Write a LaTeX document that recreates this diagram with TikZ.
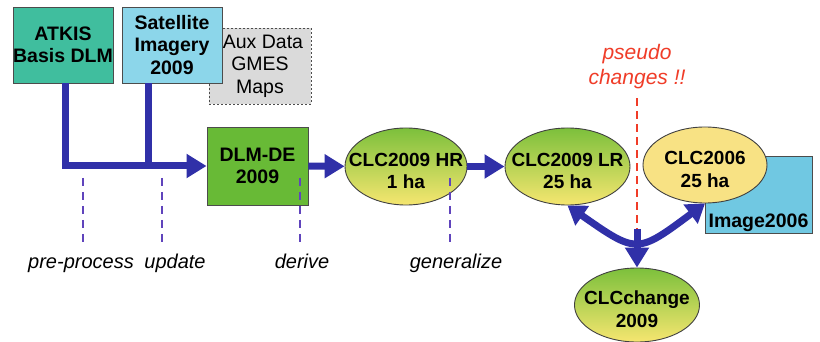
\documentclass[tikz,border=0pt]{standalone}
\usepackage{fontspec}
\setmainfont{Liberation Sans}
\usetikzlibrary{arrows.meta,shapes.geometric}
\definecolor{atkisc}{RGB}{64,190,158}
\definecolor{satc}{RGB}{140,214,234}
\definecolor{auxc}{RGB}{218,218,218}
\definecolor{dlmc}{RGB}{104,186,54}
\definecolor{clcg}{RGB}{124,192,60}
\definecolor{clcy}{RGB}{246,230,112}
\definecolor{c06c}{RGB}{248,226,132}
\definecolor{imgc}{RGB}{112,200,226}
\definecolor{flowc}{RGB}{48,48,168}
\definecolor{redc}{RGB}{240,60,40}
\definecolor{purpc}{RGB}{96,68,188}
\newcommand{\dropln}{\rule{0pt}{22pt}}
\begin{document}
\begin{tikzpicture}[x=1pt,y=-1pt,
  every node/.style={font=\fontsize{19.5}{22.5}\selectfont\bfseries, align=center, inner sep=0pt, text=black},
  box/.style={draw=black!70, line width=0.9pt, rectangle},
  ell/.style={draw=black!75, line width=0.9pt, ellipse, inner xsep=-30pt, inner ysep=-25pt,
              font=\fontsize{19}{22.5}\selectfont\bfseries},
  gy/.style={ell, top color=clcg, bottom color=clcy},
  flow/.style={draw=flowc, line width=7pt, -{Triangle[length=20pt,width=23pt]}},
  flowline/.style={draw=flowc, line width=7pt},
  twoway/.style={draw=flowc, line width=7pt, {Triangle[length=18pt,width=23pt]}-{Triangle[length=18pt,width=23pt]}},
  vdash/.style={draw=purpc, line width=2.5pt, dash pattern=on 8pt off 6pt},
  rdash/.style={draw=redc, line width=2.2pt, dash pattern=on 8pt off 5pt},
  lbl/.style={font=\fontsize{20}{24}\selectfont\itshape},
  redlbl/.style={font=\fontsize{21}{25}\selectfont\itshape, text=redc}
]
\useasboundingbox[fill=white] (0,0) rectangle (820,342);

% input boxes
\node[box, fill=auxc, dashed, dash pattern=on 2pt off 2pt, minimum width=102pt, minimum height=76pt,
      font=\fontsize{19.5}{22.5}\selectfont] (aux) at (260,66) {\hspace*{6pt}Aux Data\\GMES\\Maps};
\node[box, fill=atkisc, minimum width=100pt, minimum height=76pt] (atkis) at (63,45) {ATKIS\\Basis DLM};
\node[box, fill=satc, minimum width=100pt, minimum height=76pt] (sat) at (172,45) {Satellite\\Imagery\\2009};

\node[box, fill=dlmc, minimum width=101pt, minimum height=78pt] (dlm) at (257.5,166) {DLM-DE\\2009};

\node[gy, minimum width=122pt, minimum height=77pt] (hr) at (406,166.5) {\dropln CLC2009 HR\\1 ha};
\node[gy, minimum width=125pt, minimum height=77pt] (lr) at (567.5,166.5) {\dropln CLC2009 LR\\25 ha};

\node[box, fill=imgc, minimum width=107pt, text height=71pt, text depth=6pt, anchor=base] (img) at (758.5,227) {Image2006};
\node[ell, fill=c06c, minimum width=124pt, minimum height=76pt] (c06) at (705,165) {\dropln CLC2006\\25 ha};

\node[gy, minimum width=125pt, minimum height=74pt] (chg) at (637,305) {\dropln CLCchange\\2009};

% pseudo changes
\node[redlbl] (pseudo) at (637,67) {pseudo\\changes !!};
\coordinate (mid) at (637,229);
\draw[rdash] ([yshift=-9pt]pseudo.south) -- (mid);

% flows
\draw[flow] ([xshift=2pt]atkis.south) |- (dlm.west);
\draw[flowline] ([xshift=-24pt]sat.south) -- ([xshift=-24pt]sat.south |- dlm.west);
\draw[flow] (dlm) -- (hr);
\draw[flow] (hr) -- (lr);
\draw[twoway] (lr.south) .. controls (637,254) .. (c06.south);
\draw[flow] (mid) -- (chg.north);

% labels below
\node[lbl, anchor=base] (pre) at (81,268) {pre-process};
\node[lbl, anchor=base] (upd) at (175,268) {update};
\node[lbl, anchor=base] (der) at (302,268) {derive};
\node[lbl, anchor=base] (gen) at (456,268) {generalize};

\coordinate (d1) at (83,178);  \coordinate (e1) at (83,243);
\coordinate (d2) at (162,178); \coordinate (e2) at (162,243);
\coordinate (d3) at (300,178); \coordinate (e3) at (300,243);
\coordinate (d4) at (450,178); \coordinate (e4) at (450,243);
\draw[vdash] (d1) -- (e1);
\draw[vdash] (d2) -- (e2);
\draw[vdash] (d3) -- (e3);
\draw[vdash] (d4) -- (e4);
\end{tikzpicture}
\end{document}
